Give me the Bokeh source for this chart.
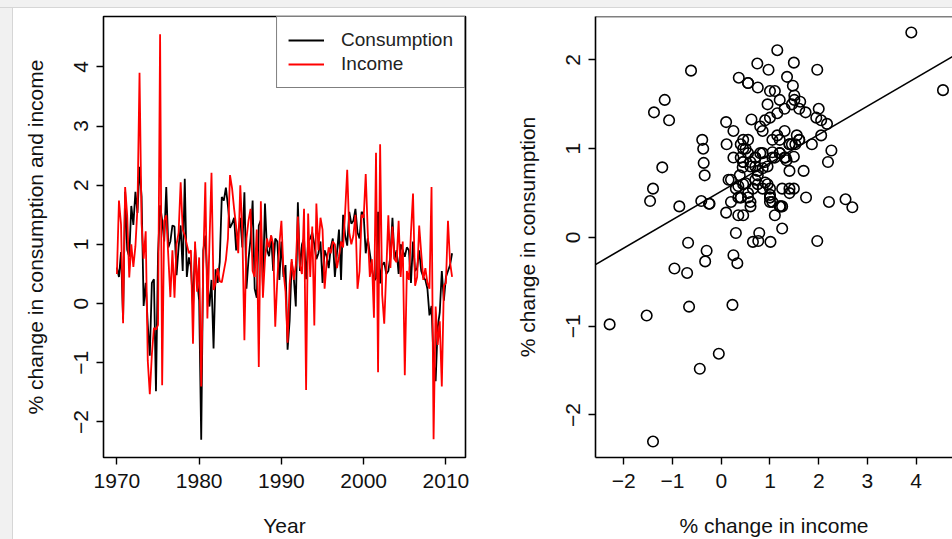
import numpy as np
from bokeh.plotting import figure
from bokeh.layouts import row, column
from bokeh.models import (Range1d, FixedTicker, Legend, LegendItem, Slope, Span, Spacer)
from bokeh.embed import file_html
from bokeh.resources import INLINE

# quarterly % changes, 1970 Q1 .. 2010 Q4
start_year = 1970
consumption = [
    0.61, 0.45, 0.87, -0.27,  1.89, 0.91, 0.79, 1.65,  1.33, 1.89, 1.53, 2.31,
    1.81, -0.04, 0.35, -0.35, -0.88, 0.35, 0.41, -1.48, 0.84, 1.66, 1.41, 1.05,
    1.97, 0.95, 1.05, 1.32,  1.30, 0.48, 0.95, 1.32,  0.55, 2.11, 0.45, 0.78,
    0.62, -0.06, 0.96, 0.40, 0.05, -2.30, 0.90, 1.15, 0.38, -0.05, 0.40, -0.76,
    0.58, 0.35, 0.70, 1.80,  1.74, 1.96, 1.65, 1.28,  1.35, 1.45, 0.90, 1.20,
    1.45, 0.95, 1.88, 0.25,  0.75, 1.10, 1.74, 0.25,  0.10, 1.32, 1.41, 0.28,
    1.69, 0.90, 0.80, 1.15,  0.55, 1.10, 1.05, 0.40,  1.05, 0.45, 0.65, -0.78,
    -0.29, 0.70, 0.45, -0.05, 1.71, 0.55, 1.00, 1.10, 0.41, 1.05, 1.10, 1.20,
    1.00, 0.75, 0.85, 1.05,  0.35, 0.90, 0.80, 0.60,  0.95, 1.10, 0.45, 0.85,
    1.25, 0.40, 1.50, 1.15,  0.98, 1.55, 1.35, 1.40,  1.60, 1.20, 1.10, 1.55,
    1.50, 0.85, 1.10, 0.85,  0.60, 0.38, 0.43, 1.55,  0.34, 0.65, 0.70, 0.50,
    0.55, 0.80, 1.45, 0.75,  0.90, 0.50, 1.00, 0.90,  0.79, 0.95, 0.90, 0.35,
    1.05, 0.55, 0.60, 0.90,  0.55, 0.45, 0.40, 0.25,  -0.20, -0.04, -0.98, -1.31,
    -0.40, -0.15, 0.55, 0.05, 0.45, 0.55, 0.65, 0.85,
]
income = [
    0.50, 1.74, 1.34, -0.33,  1.97, 1.49, 0.44, 1.00,  0.62, 0.97, 1.62, 3.90,
    1.35, 0.76, 1.22, -0.96,  -1.53, -0.86, -0.41, -0.44, -0.36, 4.55, -1.38, 1.40,
    1.49, 0.80, 0.11, 0.90,  0.10, 1.00, 1.20, 2.05,  1.25, 1.15, 1.00, 0.85,
    0.90, -0.68, 1.05, 0.20,  0.78, -1.40, 0.70, 2.05,  -0.25, 1.01, 2.21, 0.23,
    0.35, 0.60, 0.38, 0.36,  0.55, 0.74, 1.10, 2.17,  1.95, 1.60, 1.30, 0.85,
    2.00, 1.20, -0.62, 1.10,  1.40, 1.60, 0.55, 0.45,  1.25, -1.07, 1.73, 0.10,
    0.75, 1.10, 0.95, 1.15,  1.00, -0.39, 0.40, 1.00,  1.40, 0.55, 0.20, -0.66,
    0.33, 0.75, 0.40, 0.65,  1.47, 0.65, 0.50, 1.60,  -1.46, 1.52, 0.45, 1.30,
    -0.37, 1.69, 0.90, 1.45,  1.25, 0.25, 0.70, 0.95,  0.85, 1.05, 1.00, 0.60,
    0.80, 1.05, 0.95, 1.55,  2.26, 1.20, 1.00, 1.15,  1.50, 0.25, 0.55, 1.50,
    1.45, 2.19, 1.20, 0.45,  0.75, -0.24, 2.55, -1.16,  2.69, 0.15, -0.34, 0.55,
    1.49, 0.60, 1.30, 0.75,  0.70, 1.40, 0.45, 1.05,  -1.21, 0.55, 0.40, 1.20,
    1.86, 0.30, 0.45, 1.32,  0.85, 0.40, 0.60, 0.35,  0.25, 1.97, -2.29, -0.05,
    -0.70, -0.30, -1.40, 0.30,  0.35, 1.40, 0.70, 0.45,
]
year_ticks = [1970, 1980, 1990, 2000, 2010]
left_y_ticks = [-2, -1, 0, 1, 2, 3, 4]
right_x_ticks = [-2, -1, 0, 1, 2, 3, 4]
right_y_ticks = [-2, -1, 0, 1, 2]
series_names = ["Consumption", "Income"]
fit_intercept = 0.52
fit_slope = 0.32

quarters = start_year + np.arange(len(consumption)) / 4.0

FONT = "Liberation Sans"
FS = "21px"
MINUS = {-2: "\u22122", -1: "\u22121"}


def style_axes(p, xticks, yticks):
    p.xaxis.ticker = FixedTicker(ticks=xticks)
    p.yaxis.ticker = FixedTicker(ticks=yticks)
    for ax in (p.xaxis[0], p.yaxis[0]):
        ax.major_tick_out = 7
        ax.major_tick_in = 0
        ax.major_tick_line_color = "black"
        ax.major_tick_line_width = 1.4
        ax.minor_tick_line_color = None
        ax.major_label_text_font = FONT
        ax.major_label_text_font_size = FS
        ax.major_label_text_color = "#111111"
        ax.axis_label_text_font = FONT
        ax.axis_label_text_font_size = FS
        ax.axis_label_text_font_style = "normal"
        ax.axis_label_text_color = "#111111"
        ax.major_label_overrides = MINUS
    p.xaxis.major_label_standoff = 9
    p.xaxis.axis_label_standoff = 23
    p.yaxis.major_label_orientation = "vertical"
    p.yaxis.major_label_standoff = 8
    p.yaxis.axis_label_standoff = 25
    p.grid.visible = False


# ---------------- left panel: time series ----------------
p1 = figure(width=467, height=531, output_backend="svg", toolbar_location=None,
            x_range=Range1d(1968.37, 2012.38), y_range=Range1d(-2.60, 4.85),
            min_border_left=90, min_border_right=15, min_border_top=8, min_border_bottom=82,
            x_axis_label="Year", y_axis_label="% change in consumption and income")
p1.background_fill_color = "white"
p1.border_fill_color = "white"
p1.outline_line_color = "black"
p1.outline_line_width = 1.6
p1.xaxis.axis_line_color = None
p1.yaxis.axis_line_color = None
style_axes(p1, year_ticks, left_y_ticks)

r_c = p1.line(quarters, consumption, line_color="black", line_width=1.8)
r_i = p1.line(quarters, income, line_color="#ff0000", line_width=1.8)

legend = Legend(items=[LegendItem(label=series_names[0], renderers=[r_c]),
                       LegendItem(label=series_names[1], renderers=[r_i])],
                location="top_right", margin=0, padding=11, spacing=0,
                glyph_width=36, glyph_height=24, label_height=24, label_standoff=17,
                label_text_font=FONT, label_text_font_size="19px",
                label_text_color="#222222",
                border_line_color="black", border_line_width=1.6,
                background_fill_color="white", background_fill_alpha=1.0)
p1.add_layout(legend)

# ---------------- right panel: scatter ----------------
p2 = figure(width=472, height=531, output_backend="svg", toolbar_location=None,
            x_range=Range1d(-2.58, 4.745), y_range=Range1d(-2.48, 2.49),
            min_border_left=115, min_border_right=0, min_border_top=8, min_border_bottom=82,
            x_axis_label="% change in income", y_axis_label="% change in consumption")
p2.background_fill_color = "white"
p2.border_fill_color = "white"
p2.outline_line_color = None
p2.xaxis.axis_line_color = "black"
p2.xaxis.axis_line_width = 1.6
p2.yaxis.axis_line_color = "black"
p2.yaxis.axis_line_width = 1.6
style_axes(p2, right_x_ticks, right_y_ticks)
p2.add_layout(Span(location=2.49, dimension="width", line_color="black", line_width=1.6))

p2.scatter(income, consumption, marker="circle", size=10.5, fill_color=None,
           line_color="black", line_width=1.6)
p2.add_layout(Slope(gradient=fit_slope, y_intercept=fit_intercept,
                    line_color="black", line_width=1.6))

# page frame (light grey margin at top and left)
top_strip = Spacer(width=952, height=8,
                   styles={"background-color": "#f1f1f1", "border-bottom": "1px solid #d6d6d6",
                           "box-sizing": "border-box"})
left_strip = Spacer(width=13, height=531,
                    styles={"background-color": "#f1f1f1", "border-right": "1px solid #d6d6d6",
                            "box-sizing": "border-box"})

layout = column(top_strip, row(left_strip, p1, p2, spacing=0), spacing=0)

with open("out.html", "w") as f:
    f.write(file_html(layout, INLINE))
